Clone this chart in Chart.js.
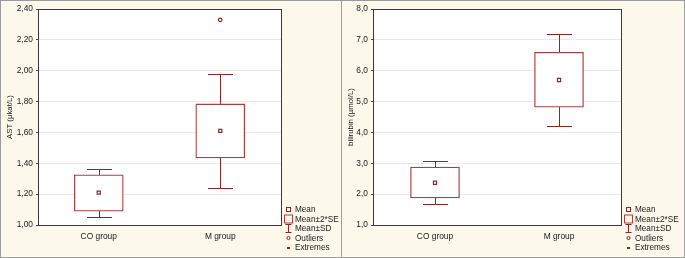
<!DOCTYPE html>
<html>
<head>
<meta charset="utf-8">
<script src="https://cdn.jsdelivr.net/npm/chart.js@4"></script>
<style>
  body { margin: 0; background: #fff; }
  #wrap { position: relative; width: 685px; height: 258px; box-sizing: border-box;
          border: 1px solid #9c9c9c; background: #fdf8ec; }
  #sep { position: absolute; left: 340px; top: 0; width: 1px; height: 256px; background: #9c9c9c; }
  .panel { position: absolute; top: 0; width: 341px; height: 256px; }
</style>
</head>
<body>
<div id="wrap">
  <div class="panel" style="left:0"><canvas id="ast_chart"></canvas></div>
  <div id="sep"></div>
  <div class="panel" style="left:341px"><canvas id="bili_chart"></canvas></div>
</div>
<script>
const groups = ["CO group", "M group"];

// AST (µkat/L)
const ast_mean = [1.21, 1.61];
const ast_se_low = [1.09, 1.435];
const ast_se_high = [1.325, 1.785];
const ast_sd_low = [1.055, 1.24];
const ast_sd_high = [1.365, 1.98];
const ast_outliers = [null, 2.33];
const ast_ticks = [1.0, 1.2, 1.4, 1.6, 1.8, 2.0, 2.2, 2.4];

// bilirubin (µmol/L)
const bili_mean = [2.37, 5.7];
const bili_se_low = [1.88, 4.82];
const bili_se_high = [2.88, 6.6];
const bili_sd_low = [1.67, 4.22];
const bili_sd_high = [3.08, 7.18];
const bili_outliers = [null, null];
const bili_ticks = [1, 2, 3, 4, 5, 6, 7, 8];

const legend_labels = ["Mean", "Mean\u00b12*SE", "Mean\u00b1SD", "Outliers", "Extremes"];

const RED = "#8a2626";
const BOX_RED = "#a84040";
const TXT = "#1a1a1a";
const FONT = "Liberation Sans, Arial, sans-serif";

function makeChart(id, opts) {
  const ctx = document.getElementById(id);

  const whiskers = {
    id: "whiskers",
    beforeDraw(chart) {
      const c = chart.ctx, a = chart.chartArea;
      c.save();
      c.fillStyle = "#fff";
      c.fillRect(a.left, a.top, a.right - a.left, a.bottom - a.top);
      c.restore();
    },
    beforeDatasetsDraw(chart) {
      const c = chart.ctx, x = chart.scales.x, y = chart.scales.y;
      c.save();
      c.strokeStyle = RED;
      c.lineWidth = 1;
      groups.forEach((g, i) => {
        const px = Math.round(x.getPixelForValue(i)) + 0.5;
        const lo = Math.round(y.getPixelForValue(opts.sdLow[i])) + 0.5;
        const hi = Math.round(y.getPixelForValue(opts.sdHigh[i])) + 0.5;
        const bl = y.getPixelForValue(opts.seLow[i]);
        const bh = y.getPixelForValue(opts.seHigh[i]);
        c.beginPath();
        c.moveTo(px, lo); c.lineTo(px, bl);
        c.moveTo(px, bh); c.lineTo(px, hi);
        c.moveTo(px - 12.5, lo); c.lineTo(px + 12.5, lo);
        c.moveTo(px - 12.5, hi); c.lineTo(px + 12.5, hi);
        c.stroke();
      });
      c.restore();
    },
    afterDraw(chart) {
      const c = chart.ctx, a = chart.chartArea;
      c.save();
      c.strokeStyle = "#3a3a3a";
      c.lineWidth = 1;
      c.strokeRect(Math.round(a.left) + 0.5, Math.round(a.top) + 0.5,
                   Math.round(a.right - a.left), Math.round(a.bottom - a.top));
      // legend
      const ix = Math.round(a.right) + 7.5;
      const tx = Math.round(a.right) + 14;
      const ys = [208.5, 218, 227.5, 237, 246.5];
      c.font = "8.2px " + FONT;
      c.fillStyle = TXT;
      c.textBaseline = "middle";
      legend_labels.forEach((t, k) => c.fillText(t, tx, ys[k] + 0.5));
      c.strokeStyle = RED;
      c.fillStyle = RED;
      c.strokeRect(ix - 2, ys[0] - 2, 4, 4);
      c.strokeStyle = BOX_RED;
      c.strokeRect(ix - 4, ys[1] - 4, 8, 8);
      c.strokeStyle = RED;
      c.beginPath();
      c.moveTo(ix - 3, ys[2] - 4); c.lineTo(ix + 3, ys[2] - 4);
      c.moveTo(ix, ys[2] - 4); c.lineTo(ix, ys[2] + 4);
      c.moveTo(ix - 3, ys[2] + 4); c.lineTo(ix + 3, ys[2] + 4);
      c.stroke();
      c.beginPath();
      c.arc(ix, ys[3], 1.6, 0, Math.PI * 2);
      c.stroke();
      c.fillRect(ix - 1.5, ys[4] - 0.5, 3, 2);
      c.restore();
    }
  };

  return new Chart(ctx, {
    type: "bar",
    data: {
      labels: groups,
      datasets: [
        {
          type: "line",
          data: opts.mean,
          showLine: false,
          pointStyle: "rect",
          pointRadius: 2.2,
          pointBorderWidth: 1.2,
          borderColor: RED,
          backgroundColor: "#fff",
          order: 0,
        },
        {
          type: "line",
          data: opts.outliers,
          showLine: false,
          pointStyle: "circle",
          pointRadius: 1.8,
          pointBorderWidth: 1.2,
          borderColor: RED,
          backgroundColor: "#fff",
          order: 0,
        },
        {
          data: opts.seLow.map((v, i) => [v, opts.seHigh[i]]),
          backgroundColor: "#fff",
          borderColor: BOX_RED,
          borderWidth: 1.3,
          borderSkipped: false,
          barThickness: 49,
          order: 1,
        },
      ],
    },
    options: {
      animation: false,
      responsive: false,
      devicePixelRatio: 1,
      layout: { padding: { left: 0, top: 8, right: opts.padRight, bottom: 0 } },
      plugins: { legend: { display: false }, tooltip: { enabled: false } },
      scales: {
        x: {
          grid: { display: false, drawTicks: true, tickLength: 3, tickColor: "#444" },
          border: { display: false },
          ticks: { padding: 4, color: TXT, font: { family: FONT, size: 8.4 } },
          afterFit(s) { s.height = 32; },
        },
        y: {
          min: opts.ticks[0],
          max: opts.ticks[opts.ticks.length - 1],
          afterBuildTicks(s) { s.ticks = opts.ticks.map(v => ({ value: v })); },
          grid: { color: "#e9e9e9", tickLength: 2, tickColor: "#444" },
          border: { display: false },
          ticks: {
            padding: 3,
            color: TXT,
            font: { family: FONT, size: 8.4 },
            callback: v => v.toFixed(opts.decimals).replace(".", ","),
          },
          title: {
            display: true,
            text: opts.title,
            color: TXT,
            font: { family: FONT, size: 7.8 },
            padding: { top: 4, bottom: 0 },
          },
          afterFit(s) { s.width = opts.axisWidth; },
        },
      },
    },
    plugins: [whiskers],
  });
}

function sizeCanvas(id) {
  const cv = document.getElementById(id);
  cv.width = 341; cv.height = 256;
  cv.style.width = "341px"; cv.style.height = "256px";
}
sizeCanvas("ast_chart");
sizeCanvas("bili_chart");

makeChart("ast_chart", {
  mean: ast_mean, seLow: ast_se_low, seHigh: ast_se_high,
  sdLow: ast_sd_low, sdHigh: ast_sd_high, outliers: ast_outliers,
  ticks: ast_ticks, decimals: 2, title: "AST (\u00b5kat/L)",
  axisWidth: 37, padRight: 61,
});

makeChart("bili_chart", {
  mean: bili_mean, seLow: bili_se_low, seHigh: bili_se_high,
  sdLow: bili_sd_low, sdHigh: bili_sd_high, outliers: bili_outliers,
  ticks: bili_ticks, decimals: 1, title: "bilirubin (\u00b5mol/L)",
  axisWidth: 31, padRight: 62,
});
</script>
</body>
</html>
